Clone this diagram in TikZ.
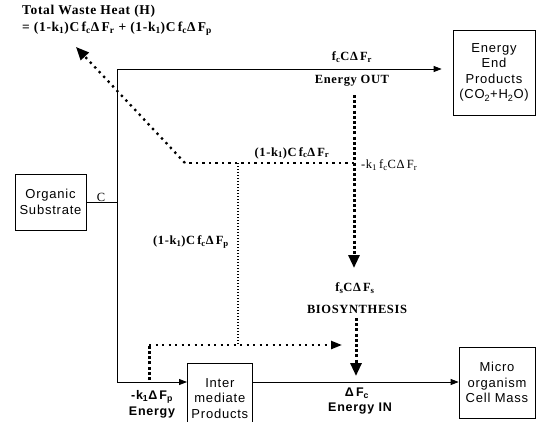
\documentclass[tikz,border=0pt]{standalone}
\usepackage{fontspec}
\setmainfont[LetterSpace=5]{Liberation Serif}
\newfontfamily\boxfont[LetterSpace=6]{Liberation Sans}
\usetikzlibrary{arrows.meta}
\begin{document}
\begin{tikzpicture}[x=1pt,y=-1pt,
  box/.style={draw, line width=0.7pt, font=\boxfont\fontsize{13}{15.5}\selectfont, align=center, inner sep=0pt},
  lbl/.style={font=\bfseries\fontsize{12.5}{17}\selectfont, inner sep=0pt},
  tlbl/.style={font=\bfseries\fontsize{13.5}{17}\selectfont, inner sep=0pt},
  rlbl/.style={font=\fontsize{12.5}{14}\selectfont, inner sep=0pt},
  slbl/.style={font=\boxfont\bfseries\fontsize{12.5}{14}\selectfont, inner sep=0pt},
  flow/.style={line width=0.8pt},
  arr/.style={-{Triangle[length=8pt,width=6pt]}},
  thickdot/.style={line width=3pt, dash pattern=on 3pt off 2.2pt},
  meddot/.style={line width=2.3pt, dash pattern=on 2.3pt off 4.2pt},
  thindot/.style={line width=1.3pt, dash pattern=on 1.3pt off 1.7pt},
  bigtip/.style={-{Triangle[length=13pt,width=11pt]}},
  midtip/.style={-{Triangle[length=11pt,width=8pt]}},
]
\useasboundingbox (0,0) rectangle (536,421);
\clip (0,0) rectangle (536,421);
% boxes
\node[box, minimum width=71pt, minimum height=56pt] (sub) at (50.5,202) {Organic\\Substrate};
\node[box, minimum width=82pt, minimum height=85pt] (eep) at (494,72.5) {Energy\\End\\Products\\(CO\textsubscript{2}+H\textsubscript{2}O)};
\node[box, minimum width=76pt, minimum height=71pt] (mic) at (497,382.5) {Micro\\organism\\Cell Mass};
\node[box, minimum width=65pt, minimum height=70pt, anchor=north west] (int) at (187,363) {Inter\\mediate\\Products};
% junctions
\coordinate (tl) at (117,69);
\coordinate (bl) at (117,382);
\coordinate (kink) at (185,163);
\coordinate (heat) at (76,47);
\coordinate (mx) at (354,163);
\coordinate (outtop) at (354,95);
\coordinate (bio) at (354,268);
\coordinate (pdrop) at (238,163);
\coordinate (pbot) at (238,345);
\coordinate (kv) at (149,380);
\coordinate (kc) at (149,345);
\coordinate (ktip) at (342,345);
\coordinate (btop) at (356,318);
\coordinate (btip) at (356,376);
% solid flows
\draw[flow] (sub.east) -- (sub.east -| tl);
\draw[flow] (tl) -- (bl);
\draw[flow,arr] (tl) -- ([xshift=-11pt]eep.west |- tl);
\draw[flow,arr] (bl) -- (int.west |- bl);
\draw[flow,arr] (int.east |- bl) -- (mic.west |- bl);
% dotted flows
\draw[meddot] (mx) -- (kink);
\draw[meddot, bigtip] (kink) -- (heat);
\draw[thickdot, bigtip] (outtop) -- (bio);
\draw[thindot] (pdrop) -- (pbot);
\draw[thickdot] (kv) -- (kc);
\draw[meddot, midtip] (kc) -- (ktip);
\draw[thickdot, bigtip] (btop) -- (btip);
% labels
\node[tlbl, anchor=north west, align=left] (title) at (22,5) {Total Waste Heat (H)\\= (1-k\textsubscript{1})C\,f\textsubscript{c}Δ\,F\textsubscript{r} + (1-k\textsubscript{1})C\,f\textsubscript{c}Δ\,F\textsubscript{p}};
\node[rlbl] (c) at (101,197) {C};
\node[lbl] (fout) at (352,57) {f\textsubscript{c}CΔ\,F\textsubscript{r}};
\node[lbl] (eout) at (352,81) {Energy OUT};
\node[lbl] (wr) at (292,153) {(1-k\textsubscript{1})C\,f\textsubscript{c}Δ\,F\textsubscript{r}};
\node[rlbl, anchor=west] (kr) at (361,165) {-k\textsubscript{1}\,f\textsubscript{c}CΔ\,F\textsubscript{r}};
\node[lbl, anchor=east] (wp) at (229,242) {(1-k\textsubscript{1})C\,f\textsubscript{c}Δ\,F\textsubscript{p}};
\node[lbl] (fbio) at (355,288) {f\textsubscript{s}CΔ\,F\textsubscript{s}};
\node[lbl] (ebio) at (357,309) {BIOSYNTHESIS};
\node[slbl] (fin) at (357,393) {Δ\,F\textsubscript{c}};
\node[slbl] (ein) at (360,409) {Energy IN};
\node[slbl] (kp) at (152,397) {-k\textsubscript{1}Δ\,F\textsubscript{p}};
\node[slbl] (ep) at (152,413) {Energy};
\end{tikzpicture}
\end{document}
